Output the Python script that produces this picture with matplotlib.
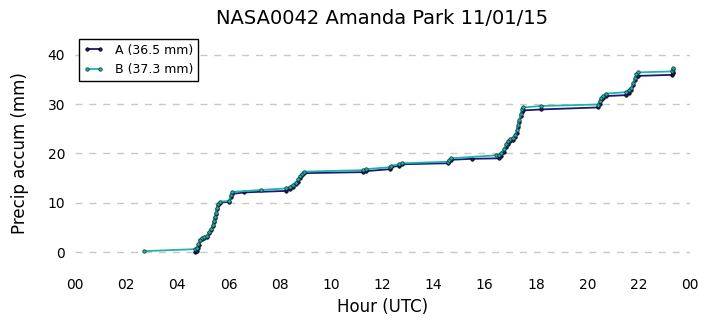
import numpy as np
from matplotlib import pyplot as plt

# gauge A: hour (UTC), accumulated precip (mm)
a_hour = [4.70, 4.75, 4.80, 4.85, 4.90, 4.95, 5.05, 5.15, 5.25, 5.32, 5.38, 5.42,
          5.46, 5.50, 5.55, 5.60, 5.65, 6.02, 6.08, 6.15, 6.62, 8.25, 8.40, 8.52,
          8.62, 8.72, 8.80, 8.87, 8.93, 11.25, 11.35, 12.30, 12.35, 12.65, 12.78,
          14.55, 14.62, 14.68, 15.50, 16.55, 16.65, 16.75, 16.82, 16.90, 17.00,
          17.10, 17.18, 17.25, 17.30, 17.35, 17.40, 17.45, 17.50, 18.20, 20.40,
          20.48, 20.55, 20.62, 20.72, 21.52, 21.62, 21.72, 21.80, 21.86, 21.92,
          21.98, 23.29, 23.33, 23.36]
a_mm = [0.0, 0.3, 0.8, 1.5, 2.4, 2.7, 2.9, 3.1, 3.8, 4.4, 5.2, 6.1,
        7.0, 7.8, 8.7, 9.5, 10.0, 10.2, 11.2, 11.8, 12.1, 12.4, 12.8, 13.2,
        13.7, 14.3, 15.0, 15.6, 16.0, 16.2, 16.4, 16.8, 17.2, 17.5, 17.8,
        18.0, 18.4, 18.7, 18.9, 19.0, 19.4, 20.2, 21.2, 22.0, 22.5,
        22.8, 23.3, 24.2, 25.3, 26.3, 27.5, 28.4, 28.7, 28.9, 29.3,
        30.0, 30.8, 31.2, 31.6, 31.8, 32.3, 32.8, 33.8, 34.8, 35.5,
        35.7, 35.9, 36.3, 36.5]

# gauge B
b_hour = [2.70, 4.68, 4.75, 4.82, 4.88, 4.95, 5.05, 5.15, 5.25, 5.32, 5.38, 5.42,
          5.46, 5.50, 5.55, 5.60, 5.65, 6.02, 6.08, 6.15, 7.28, 8.25, 8.40, 8.52,
          8.62, 8.72, 8.80, 8.87, 8.93, 11.25, 11.35, 12.30, 12.35, 12.65, 12.78,
          14.55, 14.62, 14.68, 16.43, 16.55, 16.65, 16.75, 16.82, 16.90, 17.00,
          17.10, 17.18, 17.25, 17.30, 17.35, 17.40, 17.45, 17.50, 18.20, 20.40,
          20.48, 20.55, 20.62, 20.72, 21.52, 21.62, 21.72, 21.80, 21.86, 21.92,
          21.98, 23.29, 23.33, 23.36]
b_mm = [0.2, 0.6, 0.9, 1.6, 2.4, 2.9, 3.1, 3.3, 4.0, 4.6, 5.4, 6.3,
        7.2, 8.0, 8.9, 9.7, 10.2, 10.4, 11.5, 12.2, 12.6, 12.9, 13.2, 13.6,
        14.1, 14.8, 15.4, 15.9, 16.3, 16.6, 16.8, 17.2, 17.5, 17.8, 18.0,
        18.3, 18.7, 19.0, 19.6, 19.7, 20.1, 20.8, 21.8, 22.5, 22.9,
        23.2, 23.8, 24.7, 25.8, 26.8, 28.0, 29.0, 29.3, 29.6, 29.9,
        30.6, 31.2, 31.6, 32.1, 32.4, 32.8, 33.3, 34.3, 35.3, 36.1,
        36.4, 36.6, 37.0, 37.3]

hour_ticks = list(range(0, 25, 2))
hour_labels = ["00", "02", "04", "06", "08", "10", "12", "14", "16", "18", "20", "22", "00"]
mm_ticks = [0, 10, 20, 30, 40]


def main():
    fig = plt.figure(figsize=(7.06, 3.26), dpi=100)
    ax = fig.add_axes([0.106, 0.166, 0.871, 0.727])

    ax.plot(a_hour, a_mm, color="#191970", lw=1.3, marker="o", ms=2.5,
            mec="k", mew=0.5, label="A (%.1f mm)" % a_mm[-1])
    ax.plot(b_hour, b_mm, color="#20b2aa", lw=1.3, marker="o", ms=2.5,
            mec="#0b2f2f", mew=0.5, label="B (%.1f mm)" % b_mm[-1])

    ax.set_xlim(0, 24)
    ax.set_ylim(-4, 44)
    ax.set_xticks(hour_ticks)
    ax.set_xticklabels(hour_labels)
    ax.set_yticks(mm_ticks)
    ax.tick_params(axis="x", length=0, labelsize=10, pad=4.5)
    ax.tick_params(axis="y", length=0, labelsize=10, pad=7)
    for s in ax.spines.values():
        s.set_visible(False)
    ax.yaxis.grid(True, color="#c8c8c8", ls=(0, (5, 5)), lw=1)
    ax.set_axisbelow(True)

    ax.set_xlabel("Hour (UTC)", fontsize=12, labelpad=4)
    ax.set_ylabel("Precip accum (mm)", fontsize=12, labelpad=13)
    ax.set_title("NASA0042 Amanda Park 11/01/15", fontsize=14, pad=8)

    leg = ax.legend(loc="upper left", fontsize=9, fancybox=False,
                    edgecolor="k", framealpha=1, borderaxespad=0.3,
                    handlelength=1.6, handletextpad=0.9, numpoints=2)
    leg.get_frame().set_linewidth(1.0)

    fig.savefig("out.png", dpi=100)


if __name__ == "__main__":
    main()
